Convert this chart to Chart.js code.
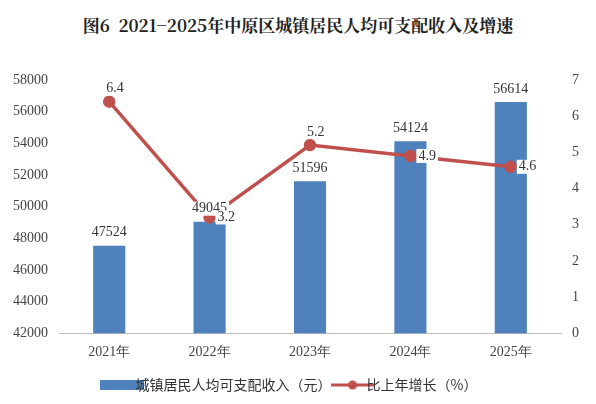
<!DOCTYPE html>
<html><head><meta charset="utf-8">
<script src="https://cdn.jsdelivr.net/npm/chart.js@4/dist/chart.umd.min.js"></script>
<style>
body{margin:0;background:#fff;}
#title{position:absolute;left:0;top:12px;width:596px;text-align:center;font:bold 17px "Noto Serif CJK SC","Noto Sans CJK SC","Liberation Serif",serif;color:#222;}
#wrap{position:absolute;left:0;top:40px;width:596px;height:364px;}
</style></head>
<body>
<div id="title">图6&nbsp; 2021−2025年中原区城镇居民人均可支配收入及增速</div>
<div id="wrap"><canvas id="c"></canvas></div>
<script>
const years = ['2021年', '2022年', '2023年', '2024年', '2025年'];
const income = [47524, 49045, 51596, 54124, 56614];
const growth = [6.4, 3.2, 5.2, 4.9, 4.6];
const growthLabelPos = ['top', 'right', 'top', 'right', 'right'];

const font = {family: '"Liberation Serif", serif', size: 14};

function swatch(kind) {
  const cv = document.createElement('canvas');
  cv.width = 44; cv.height = 12;
  const g = cv.getContext('2d');
  if (kind === 'bar') {
    g.fillStyle = '#4f81bd';
    g.fillRect(0, 1, 44, 10);
  } else {
    g.strokeStyle = '#c0504d'; g.lineWidth = 3;
    g.beginPath(); g.moveTo(0, 6); g.lineTo(44, 6); g.stroke();
    g.fillStyle = '#c0504d';
    g.beginPath(); g.arc(22, 6, 4.5, 0, Math.PI * 2); g.fill();
  }
  return cv;
}

const labels = {
  id: 'labels',
  afterDatasetsDraw(chart) {
    const ctx = chart.ctx;
    ctx.save();
    ctx.font = '14px "Liberation Serif", serif';
    const put = (txt, x, y, align, base) => {
      ctx.textAlign = align; ctx.textBaseline = base;
      const w = ctx.measureText(txt).width;
      const x0 = align === 'center' ? x - w / 2 : x;
      const y0 = base === 'bottom' ? y - 14 : y - 7;
      ctx.fillStyle = '#fff';
      ctx.fillRect(x0 - 2, y0, w + 4, 14);
      ctx.fillStyle = '#333';
      ctx.fillText(txt, x, y);
    };
    chart.getDatasetMeta(0).data.forEach((b, i) => {
      put(String(income[i]), b.x, b.y - 6, 'center', 'bottom');
    });
    chart.getDatasetMeta(1).data.forEach((p, i) => {
      if (growthLabelPos[i] === 'top') put(growth[i].toFixed(1), p.x - 3, p.y - 6, 'left', 'bottom');
      else put(growth[i].toFixed(1), p.x + 8, p.y, 'left', 'middle');
    });
    ctx.restore();
  }
};

new Chart(document.getElementById('c'), {
  data: {
    labels: years,
    datasets: [
      {type: 'bar', label: '城镇居民人均可支配收入（元）', data: income, backgroundColor: '#4f81bd',
       yAxisID: 'y', barPercentage: 0.32, categoryPercentage: 1, order: 2},
      {type: 'line', label: '比上年增长（%）', data: growth, borderColor: '#c0504d', backgroundColor: '#c0504d',
       borderWidth: 3.5, pointRadius: 4.5, pointBackgroundColor: '#c0504d', yAxisID: 'y1', order: 1}
    ]
  },
  options: {
    animation: false,
    responsive: true,
    maintainAspectRatio: false,
    layout: {padding: {left: 10, right: 14, top: 40, bottom: 2}},
    plugins: {
      tooltip: {enabled: false},
      legend: {position: 'bottom', labels: {
        font: {family: '"Noto Sans CJK SC", sans-serif', size: 14}, color: '#333',
        usePointStyle: true, padding: 14,
        sort: (a, b) => a.datasetIndex - b.datasetIndex,
        generateLabels: (chart) => chart.data.datasets.map((d, i) => ({
          text: d.label, datasetIndex: i, pointStyle: swatch(d.type), fontColor: '#333',
          lineWidth: 0, strokeStyle: 'transparent', fillStyle: 'transparent'
        }))
      }}
    },
    scales: {
      x: {grid: {display: false}, border: {color: '#bbb'}, ticks: {font, color: '#444'}},
      y: {min: 42000, max: 58000, ticks: {stepSize: 2000, font, color: '#444', callback: v => String(v)}, grid: {display: false}, border: {display: false}},
      y1: {position: 'right', min: 0, max: 7, ticks: {stepSize: 1, font, color: '#444'}, grid: {display: false}, border: {display: false}}
    }
  },
  plugins: [labels]
});
</script>
</body></html>
